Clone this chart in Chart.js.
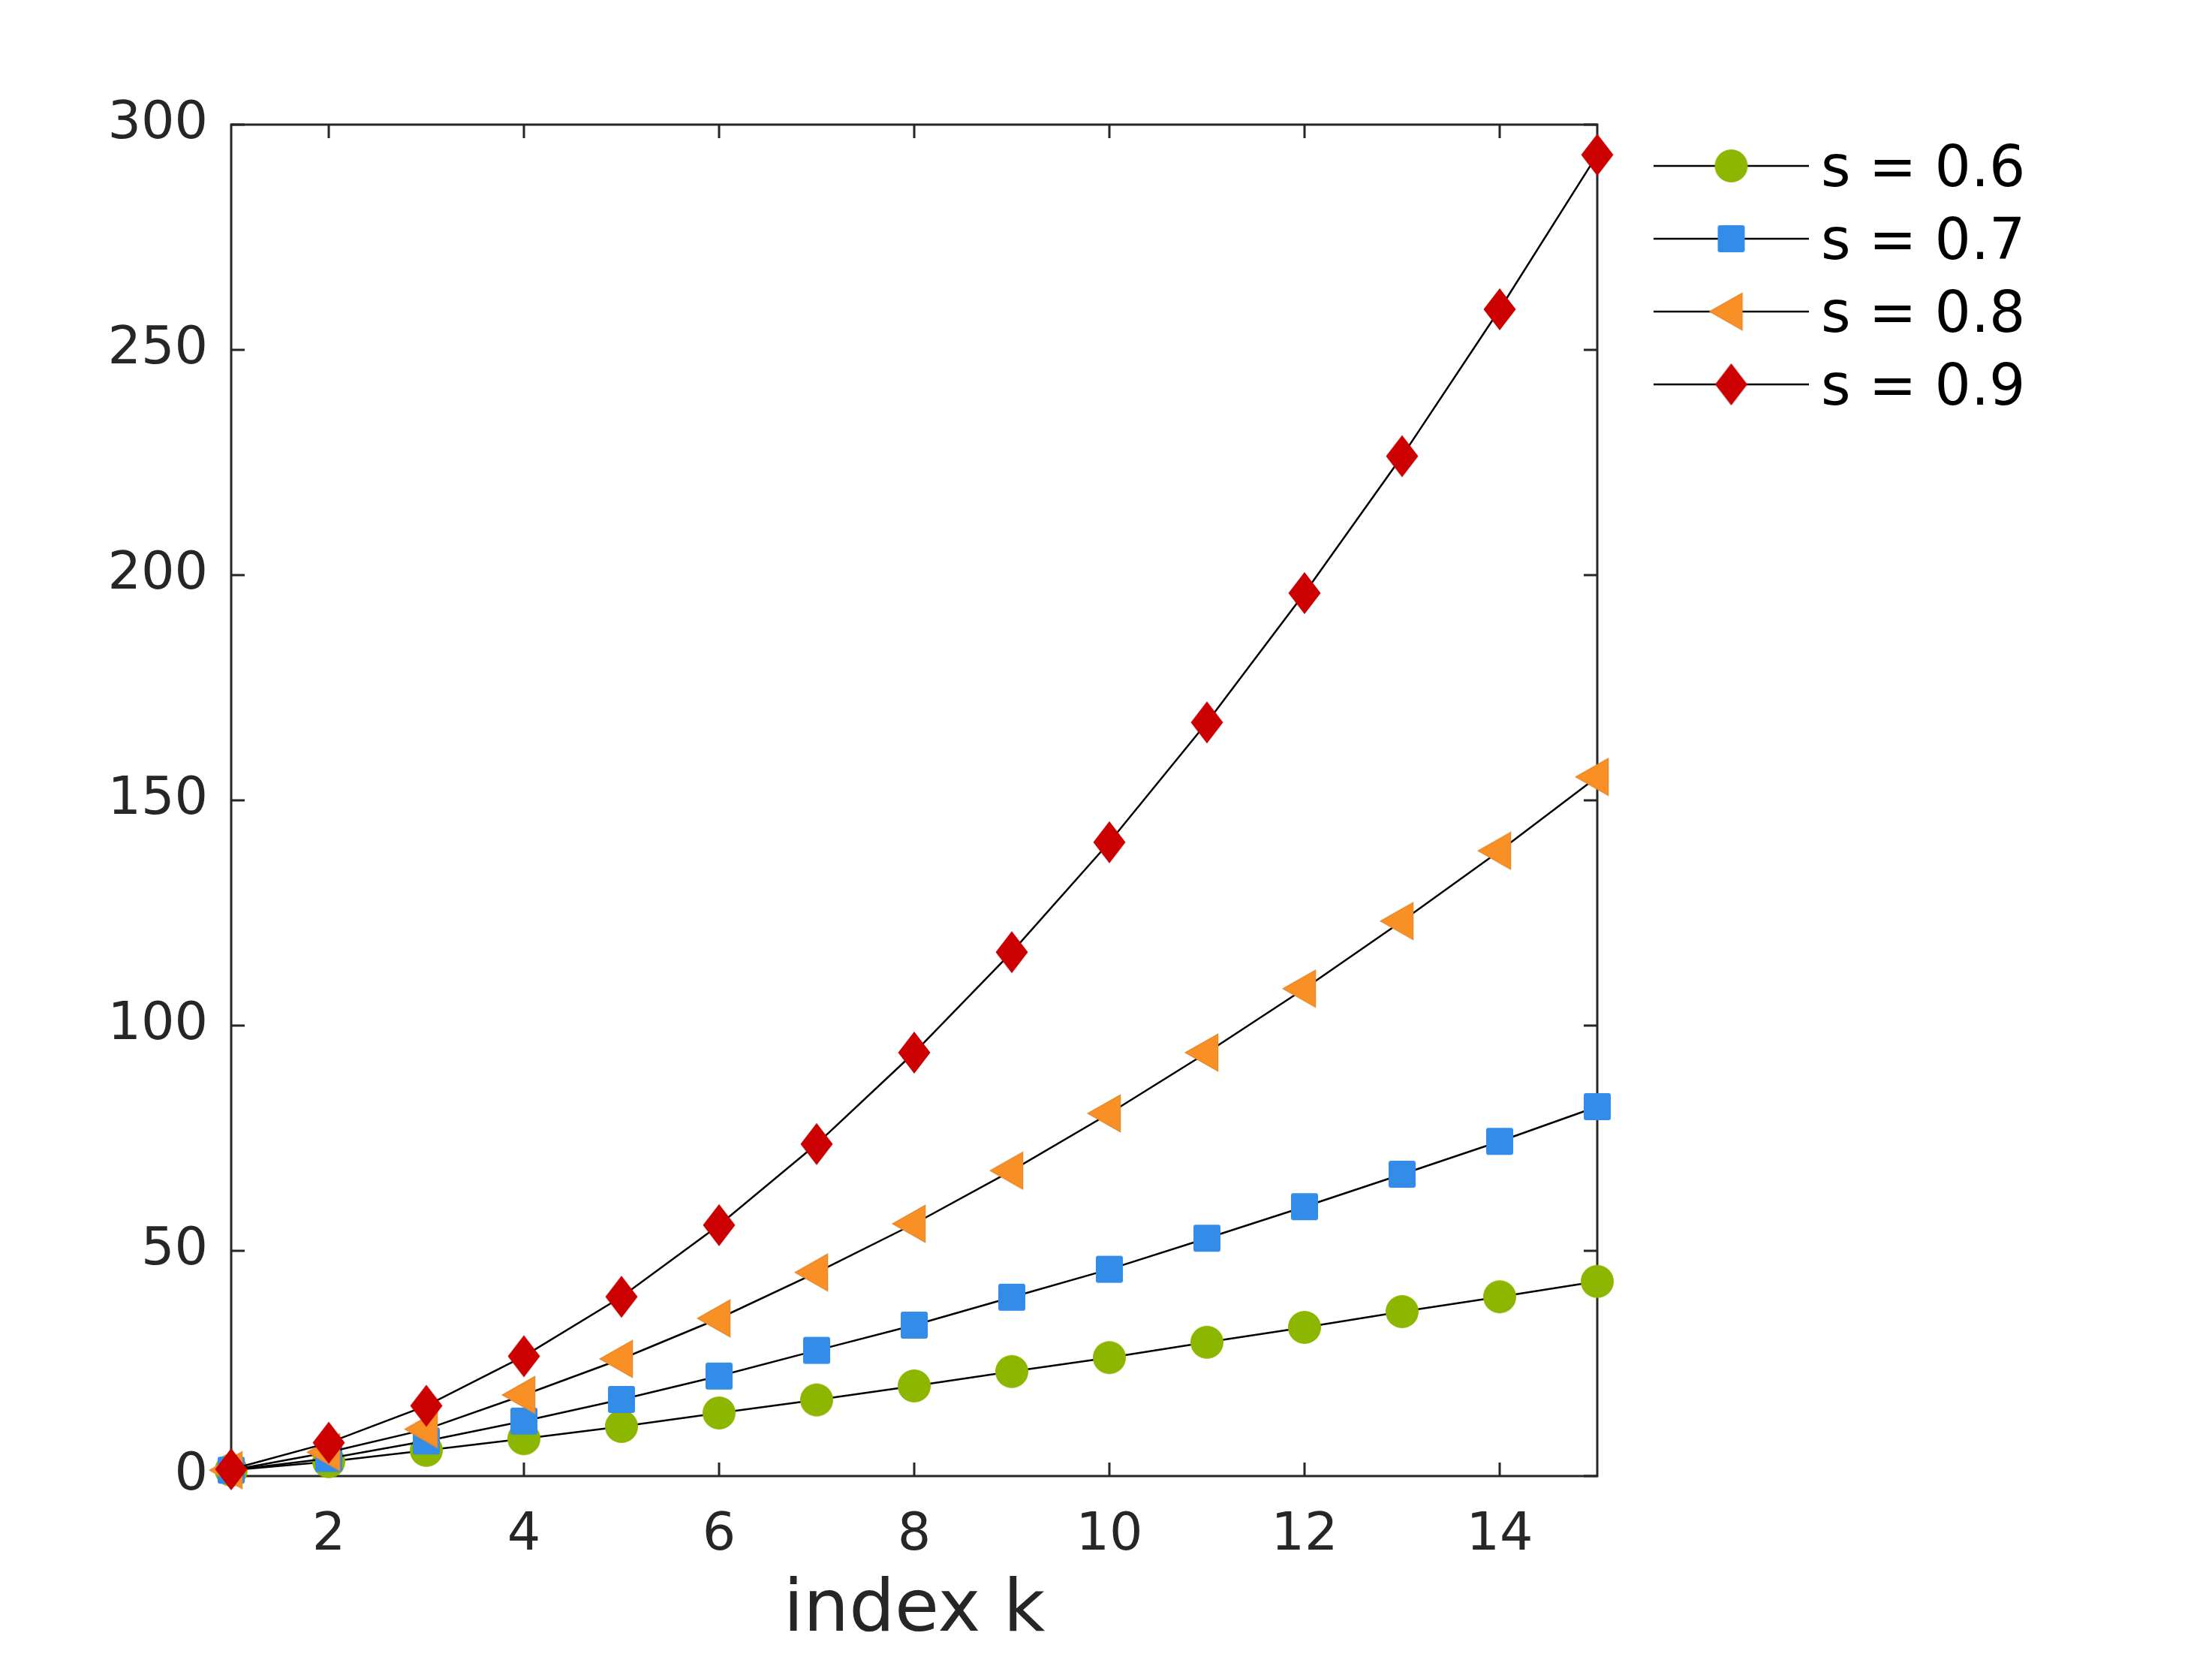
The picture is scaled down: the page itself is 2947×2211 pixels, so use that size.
<!DOCTYPE html>
<html>
<head>
<meta charset="utf-8">
<title>index k</title>
<script src="https://cdn.jsdelivr.net/npm/chart.js@4.4.1/dist/chart.umd.min.js"></script>
<style>
    html, body { margin: 0; padding: 0; background: #ffffff; }
    #wrap { width: 2947px; height: 2211px; }
</style>
</head>
<body>
<div id="wrap"><canvas id="chart" width="2947" height="2211"></canvas></div>
<script>
// values
const kValues = [1, 2, 3, 4, 5, 6, 7, 8, 9, 10, 11, 12, 13, 14, 15];
const s06 = [1.3, 3.2, 5.7, 8.3, 11, 14, 16.9, 20, 23.2, 26.3, 29.7, 33, 36.5, 39.8, 43.2];
const s07 = [1.3, 3.9, 7.8, 12.2, 17, 22.2, 27.9, 33.5, 39.7, 45.9, 52.8, 59.8, 67, 74.3, 82];
const s08 = [1.3, 5.3, 10.4, 18, 26, 35, 45.2, 56, 67.8, 80.5, 94, 108.2, 123.2, 138.8, 155.2];
const s09 = [1.5, 7.4, 15.6, 26.6, 39.8, 55.7, 73.7, 94, 116.3, 140.7, 167.3, 196, 226.4, 259, 293.3];
const seriesLabels = ["s = 0.6", "s = 0.7", "s = 0.8", "s = 0.9"];
const xTicks = [2, 4, 6, 8, 10, 12, 14];
const yTicks = [0, 50, 100, 150, 200, 250, 300];

const FONT = "'DejaVu Sans', 'Liberation Sans', sans-serif";
const AXIS_COLOR = "#262626";
const TICK_LEN = 18;

const makeMarker = (w, h, draw) => {
    const c = document.createElement("canvas");
    c.width = w;
    c.height = h;
    draw(c.getContext("2d"));
    return c;
};

const circleMarker = makeMarker(46, 46, (g) => {
    g.fillStyle = "#8db600";
    g.beginPath();
    g.arc(23, 23, 22, 0, Math.PI * 2);
    g.fill();
});

const squareMarker = makeMarker(38, 38, (g) => {
    g.fillStyle = "#338ce8";
    g.beginPath();
    g.roundRect(1, 1, 36, 36, 3);
    g.fill();
});

// left triangle, centroid sits on the image centre
const triangleMarker = makeMarker(60, 52, (g) => {
    g.fillStyle = "#f89026";
    g.strokeStyle = "#ea8a2e";
    g.lineWidth = 1.5;
    g.beginPath();
    g.moveTo(1.5, 26);
    g.lineTo(44.5, 1.5);
    g.lineTo(44.5, 50.5);
    g.closePath();
    g.fill();
    g.stroke();
});

const diamondMarker = makeMarker(46, 58, (g) => {
    g.fillStyle = "#cc0000";
    g.beginPath();
    g.moveTo(23, 1);
    g.lineTo(44.5, 29);
    g.lineTo(23, 57);
    g.lineTo(1.5, 29);
    g.closePath();
    g.fill();
});

const markers = [circleMarker, squareMarker, triangleMarker, diamondMarker];
const seriesValues = [s06, s07, s08, s09];

const toPoints = (values) => kValues.map((k, i) => ({ x: k, y: values[i] }));

// box with inward ticks on all four sides (MATLAB style)
const boxPlugin = {
    id: "boxTicks",
    beforeDatasetsDraw(chart) {
        const { ctx, chartArea: a, scales } = chart;
        ctx.save();
        ctx.strokeStyle = AXIS_COLOR;
        ctx.lineWidth = 3;
        ctx.beginPath();
        xTicks.forEach((v) => {
            const px = scales.x.getPixelForValue(v);
            ctx.moveTo(px, a.bottom);
            ctx.lineTo(px, a.bottom - TICK_LEN);
            ctx.moveTo(px, a.top);
            ctx.lineTo(px, a.top + TICK_LEN);
        });
        yTicks.forEach((v) => {
            const py = scales.y.getPixelForValue(v);
            ctx.moveTo(a.left, py);
            ctx.lineTo(a.left + TICK_LEN, py);
            ctx.moveTo(a.right, py);
            ctx.lineTo(a.right - TICK_LEN, py);
        });
        ctx.stroke();
        ctx.strokeRect(a.left, a.top, a.right - a.left, a.bottom - a.top);
        ctx.restore();
    },
};

// legend outside the axes: line with the marker in its middle, then the label
const legendPlugin = {
    id: "lineLegend",
    afterDraw(chart) {
        const { ctx, chartArea: a } = chart;
        const lineStart = a.right + 75;
        const lineEnd = a.right + 282;
        const mid = (lineStart + lineEnd) / 2;
        ctx.save();
        ctx.font = "76px " + FONT;
        ctx.textBaseline = "alphabetic";
        ctx.textAlign = "left";
        chart.data.datasets.forEach((ds, i) => {
            const cy = 221 + i * 97;
            ctx.strokeStyle = "#000000";
            ctx.lineWidth = 2.5;
            ctx.beginPath();
            ctx.moveTo(lineStart, cy);
            ctx.lineTo(lineEnd, cy);
            ctx.stroke();
            const img = ds.pointStyle;
            ctx.drawImage(img, mid - img.width / 2, cy - img.height / 2);
            ctx.fillStyle = "#000000";
            ctx.fillText(ds.label, lineEnd + 16, cy + 27);
        });
        ctx.restore();
    },
};

const datasets = seriesValues.map((values, i) => ({
    label: seriesLabels[i],
    data: toPoints(values),
    borderColor: "#000000",
    borderWidth: 2.5,
    pointStyle: markers[i],
    pointRadius: 22,
    pointHoverRadius: 22,
    tension: 0,
    fill: false,
    clip: false,
    order: seriesValues.length - 1 - i,
}));

new Chart(document.getElementById("chart").getContext("2d"), {
    type: "line",
    data: { datasets },
    options: {
        responsive: false,
        animation: false,
        devicePixelRatio: 1,
        layout: { padding: { top: 166, right: 819, left: 0, bottom: 0 } },
        plugins: { legend: { display: false }, tooltip: { enabled: false } },
        scales: {
            x: {
                type: "linear",
                min: 1,
                max: 15,
                grid: { display: false, drawTicks: false },
                border: { display: false },
                afterBuildTicks: (scale) => {
                    scale.ticks = xTicks.map((v) => ({ value: v }));
                },
                afterFit: (scale) => {
                    scale.height = 245;
                },
                ticks: {
                    color: AXIS_COLOR,
                    font: { family: FONT, size: 70 },
                    padding: 38,
                    maxRotation: 0,
                },
                title: {
                    display: true,
                    text: "index k",
                    color: AXIS_COLOR,
                    font: { family: FONT, size: 96 },
                    padding: { top: 0, bottom: 6 },
                },
            },
            y: {
                type: "linear",
                min: 0,
                max: 300,
                grid: { display: false, drawTicks: false },
                border: { display: false },
                afterBuildTicks: (scale) => {
                    scale.ticks = yTicks.map((v) => ({ value: v }));
                },
                afterFit: (scale) => {
                    scale.width = 308;
                },
                ticks: {
                    color: AXIS_COLOR,
                    font: { family: FONT, size: 70 },
                    padding: 31,
                },
            },
        },
    },
    plugins: [boxPlugin, legendPlugin],
});
</script>
</body>
</html>
